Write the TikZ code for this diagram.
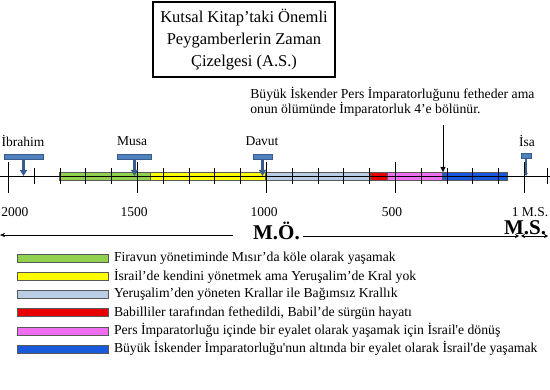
\documentclass[tikz,border=0pt]{standalone}
\usepackage{fontspec}
\setmainfont{Liberation Serif}[Ligatures=TeXOff]
\usepackage{tikz}
\usetikzlibrary{positioning,arrows.meta}

\definecolor{egypt}{RGB}{146,208,80}
\definecolor{judges}{RGB}{255,255,0}
\definecolor{kings}{RGB}{185,205,229}
\definecolor{exile}{RGB}{232,0,0}
\definecolor{persia}{RGB}{240,110,240}
\definecolor{greece}{RGB}{25,90,220}
\definecolor{marker}{RGB}{79,129,189}
\definecolor{markerline}{RGB}{56,93,138}

\begin{document}
\begin{tikzpicture}[x=1pt, y=-1pt, semithick,
  period/.style={draw=black!65, thin},
  swatch/.style={period, minimum width=91pt, minimum height=8pt, inner sep=0pt},
  prophet/.style={draw=markerline, fill=marker, minimum height=4.5pt, inner sep=0pt},
  label/.style={font=\fontsize{13.5}{15}\selectfont},
  era/.style={font=\fontsize{21}{24}\selectfont\bfseries, inner sep=0pt},
  legend/.style={font=\fontsize{13.7}{16}\selectfont, anchor=west, inner sep=0pt},
  drop/.style={-{Triangle[width=7pt,length=6pt]}, draw=markerline, line width=2.2pt},
  tick/.style={line width=0.8pt}]

  \useasboundingbox (0,0) rectangle (550,390);

  % title
  \node [draw, line width=1.2pt, align=center, minimum width=182pt, minimum height=75pt,
         font=\fontsize{16.5}{21.6}\selectfont] (title) at (244,39.5)
        {Kutsal Kitap’taki Önemli\\Peygamberlerin Zaman\\Çizelgesi (A.S.)};

  % periods
  \draw [period, fill=egypt]  (59,172)  rectangle (150,180);
  \draw [period, fill=judges] (150,172) rectangle (265,180);
  \draw [period, fill=kings]  (265,172) rectangle (370,180);
  \draw [period, fill=exile]  (370,172) rectangle (387,180);
  \draw [period, fill=persia] (387,172) rectangle (442,180);
  \draw [period, fill=greece] (442,172) rectangle (507,180);

  % time axis
  \coordinate (axisleft) at (0,176);
  \coordinate (axisright) at (550,176);
  \draw [tick] (axisleft) -- (axisright);
  \foreach \k in {0,...,20} {
    \pgfmathsetmacro\tx{8.3+25.8*\k}
    \pgfmathtruncatemacro\major{mod(\k,5)==0}
    \ifnum\major=1
      \draw [tick] (\tx,162) -- (\tx,193);
    \else
      \draw [tick] (\tx,168) -- (\tx,184);
    \fi
  }
  \draw [tick] (547,168) -- (547,184);

  \node [label] (y2000) at (15,212) {2000};
  \node [label] (y1500) at (134,212) {1500};
  \node [label] (y1000) at (264,212) {1000};
  \node [label] (y500)  at (392,212) {500};
  \node [label] (y1)    at (530,212) {1 M.S.};

  % prophets
  \node [prophet, minimum width=39pt] (ibrahim) at (23.5,157) {};
  \node [prophet, minimum width=34pt] (musa)    at (134.5,157) {};
  \node [prophet, minimum width=19pt] (davut)   at (262.5,157) {};
  \node [prophet, minimum width=10pt] (isa)     at (526,156) {};
  \node [label] (ibrahimname) at (23,141) {İbrahim};
  \node [label] (musaname)    at (132,141) {Musa};
  \node [label] (davutname)   at (262,141) {Davut};
  \node [label] (isaname)     at (527,141) {İsa};
  \coordinate (ibrahimhit) at (23.5,176);
  \coordinate (musahit)    at (134.5,176);
  \coordinate (davuthit)   at (262.5,176);
  \coordinate (isahit)     at (526,176);
  \draw [drop] (ibrahim) -- (ibrahimhit);
  \draw [drop] (musa) -- (musahit);
  \draw [drop] (davut) -- (davuthit);
  \draw [drop, -{Triangle[width=3.5pt,length=3pt]}, line width=1.4pt] (isa) -- (isahit);

  % note on Alexander
  \node [anchor=north west, align=left, inner sep=0pt,
         font=\fontsize{13.7}{15.3}\selectfont] (note) at (250,87)
        {Büyük İskender Pers İmparatorluğunu fetheder ama\\onun ölümünde İmparatorluk 4’e bölünür.};
  \coordinate (notefoot) at (443,125);
  \coordinate (conquest) at (443,172);
  \draw [thin, -{Triangle[width=5pt,length=5pt]}] (notefoot) -- (conquest);

  % eras
  \node [era] (bc) at (276.5,231) {M.Ö.};
  \node [era] (ad) at (525,228) {M.S.};
  \coordinate (bcend) at (0,235);
  \coordinate (adstart) at (519,236);
  \coordinate (adend) at (548,236);
  \draw [thin, -{Stealth[length=5pt,width=4pt]}] ([xshift=-20pt,yshift=-4pt]bc.west) -- (bcend);
  \draw [thin, -{Stealth[length=4pt,width=4pt]}] ([xshift=3pt,yshift=-5pt]bc.east) -- (adstart);
  \draw [thin, {Stealth[length=4pt,width=4pt]}-{Stealth[length=4pt,width=4pt]}] ([xshift=2pt]adstart) -- (adend);

  % legend
  \foreach \c/\t [count=\i] in {
      egypt/{Firavun yönetiminde Mısır’da köle olarak yaşamak},
      judges/{İsrail’de kendini yönetmek ama Yeruşalim’de Kral yok},
      kings/{Yeruşalim’den yöneten Krallar ile Bağımsız Krallık},
      exile/{Babilliler tarafından fethedildi, Babil’de sürgün hayatı},
      persia/{Pers İmparatorluğu içinde bir eyalet olarak yaşamak için İsrail'e dönüş},
      greece/{Büyük İskender İmparatorluğu'nun altında bir eyalet olarak İsrail'de yaşamak}} {
    \node [swatch, fill=\c] (sw\i) at (63,240.5+18.05*\i) {};
    \node [legend, right=5pt of sw\i] (lg\i) {\t};
  }

\end{tikzpicture}
\end{document}
